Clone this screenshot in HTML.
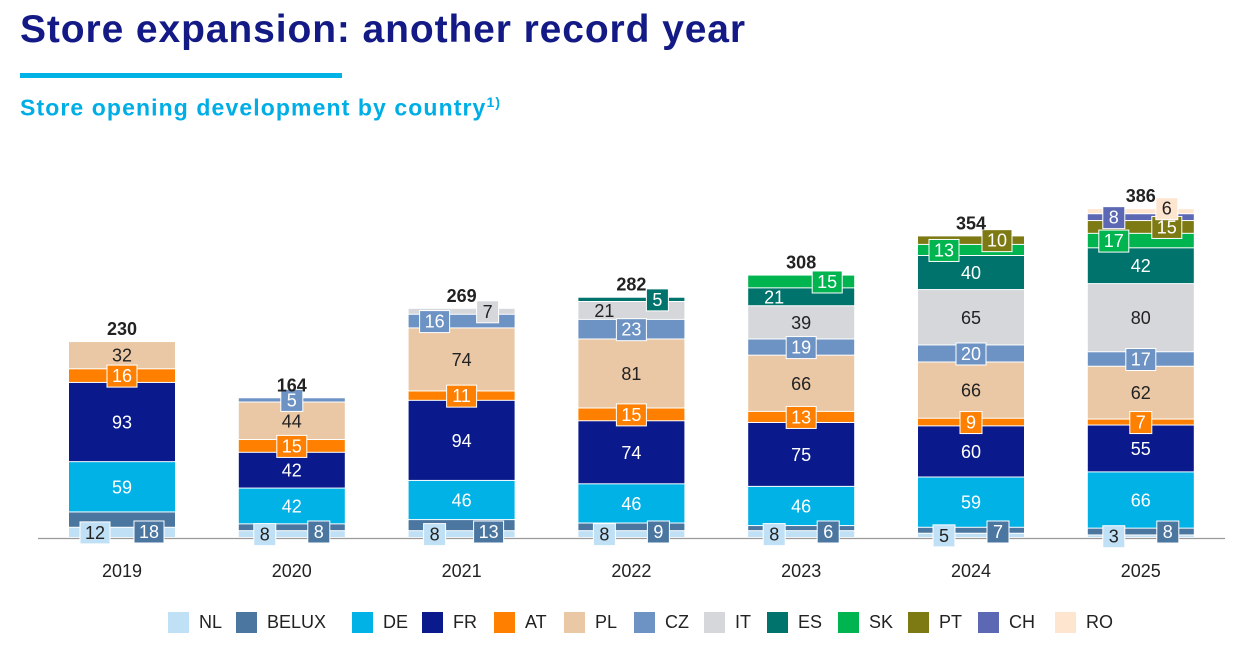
<!DOCTYPE html>
<html><head><meta charset="utf-8">
<style>
body{margin:0;width:1246px;height:645px;background:#fff;font-family:"Liberation Sans",sans-serif;overflow:hidden;position:relative}
.title{position:absolute;left:20px;top:8px;font-size:39px;font-weight:bold;color:#141a85;letter-spacing:0.9px}
.rule{position:absolute;left:20px;top:73px;width:322px;height:5px;background:#00b2e6}
.sub{position:absolute;left:20px;top:94px;font-size:23px;font-weight:bold;color:#00aee6;letter-spacing:1.1px}
.sub sup{font-size:14px}
.leg{position:absolute;top:612px;display:flex;align-items:center;font-size:18px;color:#222}
.leg span{display:inline-block;width:21px;height:21px;margin-right:10px}
</style></head><body>
<div class="title">Store expansion: another record year</div>
<div class="rule"></div>
<div class="sub">Store opening development by country<sup>1)</sup></div>
<svg id="chart" width="1246" height="645" style="position:absolute;left:0;top:0"></svg>
<div>
<div class="leg" style="left:168px"><span style="background:#bfe0f5"></span>NL</div>
<div class="leg" style="left:236px"><span style="background:#4a76a0"></span>BELUX</div>
<div class="leg" style="left:352px"><span style="background:#00b2e6"></span>DE</div>
<div class="leg" style="left:422px"><span style="background:#0a1a8c"></span>FR</div>
<div class="leg" style="left:494px"><span style="background:#ff8000"></span>AT</div>
<div class="leg" style="left:564px"><span style="background:#ebc8a5"></span>PL</div>
<div class="leg" style="left:634px"><span style="background:#6d93c4"></span>CZ</div>
<div class="leg" style="left:704px"><span style="background:#d5d7db"></span>IT</div>
<div class="leg" style="left:767px"><span style="background:#00746c"></span>ES</div>
<div class="leg" style="left:838px"><span style="background:#00b450"></span>SK</div>
<div class="leg" style="left:908px"><span style="background:#7d7a14"></span>PT</div>
<div class="leg" style="left:978px"><span style="background:#5d68b4"></span>CH</div>
<div class="leg" style="left:1055px"><span style="background:#fde5cf"></span>RO</div>
</div>
<script>
const years=["2019","2020","2021","2022","2023","2024","2025"];
const seriesNames=["NL","BELUX","DE","FR","AT","PL","CZ","IT","ES","SK","PT","CH","RO"];
const NL=[12,8,8,8,8,5,3];
const BELUX=[18,8,13,9,6,7,8];
const DE=[59,42,46,46,46,59,66];
const FR=[93,42,94,74,75,60,55];
const AT=[16,15,11,15,13,9,7];
const PL=[32,44,74,81,66,66,62];
const CZ=[0,5,16,23,19,20,17];
const IT=[0,0,7,21,39,65,80];
const ES=[0,0,0,5,21,40,42];
const SK=[0,0,0,0,15,13,17];
const PT=[0,0,0,0,0,10,15];
const CH=[0,0,0,0,0,0,8];
const RO=[0,0,0,0,0,0,6];
const series=[NL,BELUX,DE,FR,AT,PL,CZ,IT,ES,SK,PT,CH,RO];
const colors=["#bfe0f5","#4a76a0","#00b2e6","#0a1a8c","#ff8000","#ebc8a5","#6d93c4","#d5d7db","#00746c","#00b450","#7d7a14","#5d68b4","#fde5cf"];
const darkText=[true,false,false,false,false,true,false,true,false,false,false,false,true];
const boxOffset=[-27,27,0,0,0,0,0,26,26,26,26,-27,26];
const alwaysBox=[true,true,false,false,true,false,true,false,false,false,false,false,false];

const svg=document.getElementById('chart');
const NS="http://www.w3.org/2000/svg";
const baseY=538, scale=0.852, x0=122, step=169.8, bw=106;
const xC=i=>x0+i*step;
const yV=v=>baseY-v*scale;
function mk(tag,attrs){const e=document.createElementNS(NS,tag);for(const k in attrs)e.setAttribute(k,attrs[k]);svg.appendChild(e);return e;}

const axis=mk('line',{x1:38,x2:1225,y1:baseY+0.5,y2:baseY+0.5,stroke:'#9a9a9a','stroke-width':1.2});



years.forEach((yr,i)=>{
  let cum=0;
  const cx=xC(i);
  const labels=[];
  series.forEach((s,k)=>{
    const v=s[i]; if(!v) return;
    const y1=yV(cum), y2=yV(cum+v);
    const r=mk('rect',{x:cx-bw/2,y:y2,width:bw,height:Math.max(0,y1-y2-1),fill:colors[k]});
    
    
    labels.push({k,v,ym:(y1+y2)/2,h:y1-y2});
    cum+=v;
  });
  labels.forEach(L=>{
    const k=L.k;
    const small=alwaysBox[k]||L.v<=17;
    let lx=cx, ly=L.ym;
    if(small){
      let off=boxOffset[k];
      if(k===6 && yr==="2021") off=-27;
      if(k===9 && (yr==="2024"||yr==="2025")) off=-27;
      lx=cx+off;
      if(k===0||k===1) ly=Math.max(ly,baseY-6);
      if(k===12) ly-=3;
      const w=String(L.v).length>1?30:22;
      const b=mk('rect',{x:lx-w/2,y:ly-11,width:w,height:22,fill:colors[k],stroke:'#fff','stroke-width':1});
      
      
    } else if((k===7 && yr==="2022")||(k===8 && yr==="2023")){
      lx=cx-27;
    }
    const t=mk('text',{x:lx,y:ly+6,'text-anchor':'middle','font-size':18,fill:darkText[k]?'#222':'#fff','font-family':'Liberation Sans, sans-serif'});
    t.textContent=L.v;
    
    
  });
  const tot=mk('text',{x:cx,y:yV(cum)-7,'text-anchor':'middle','font-size':18,'font-weight':'bold',fill:'#222','font-family':'Liberation Sans, sans-serif'});
  tot.textContent=cum;
  
  
  const yl=mk('text',{x:cx,y:577,'text-anchor':'middle','font-size':18,fill:'#222','font-family':'Liberation Sans, sans-serif'});
  yl.textContent=yr;
  
  
});
</script>
</body></html>
